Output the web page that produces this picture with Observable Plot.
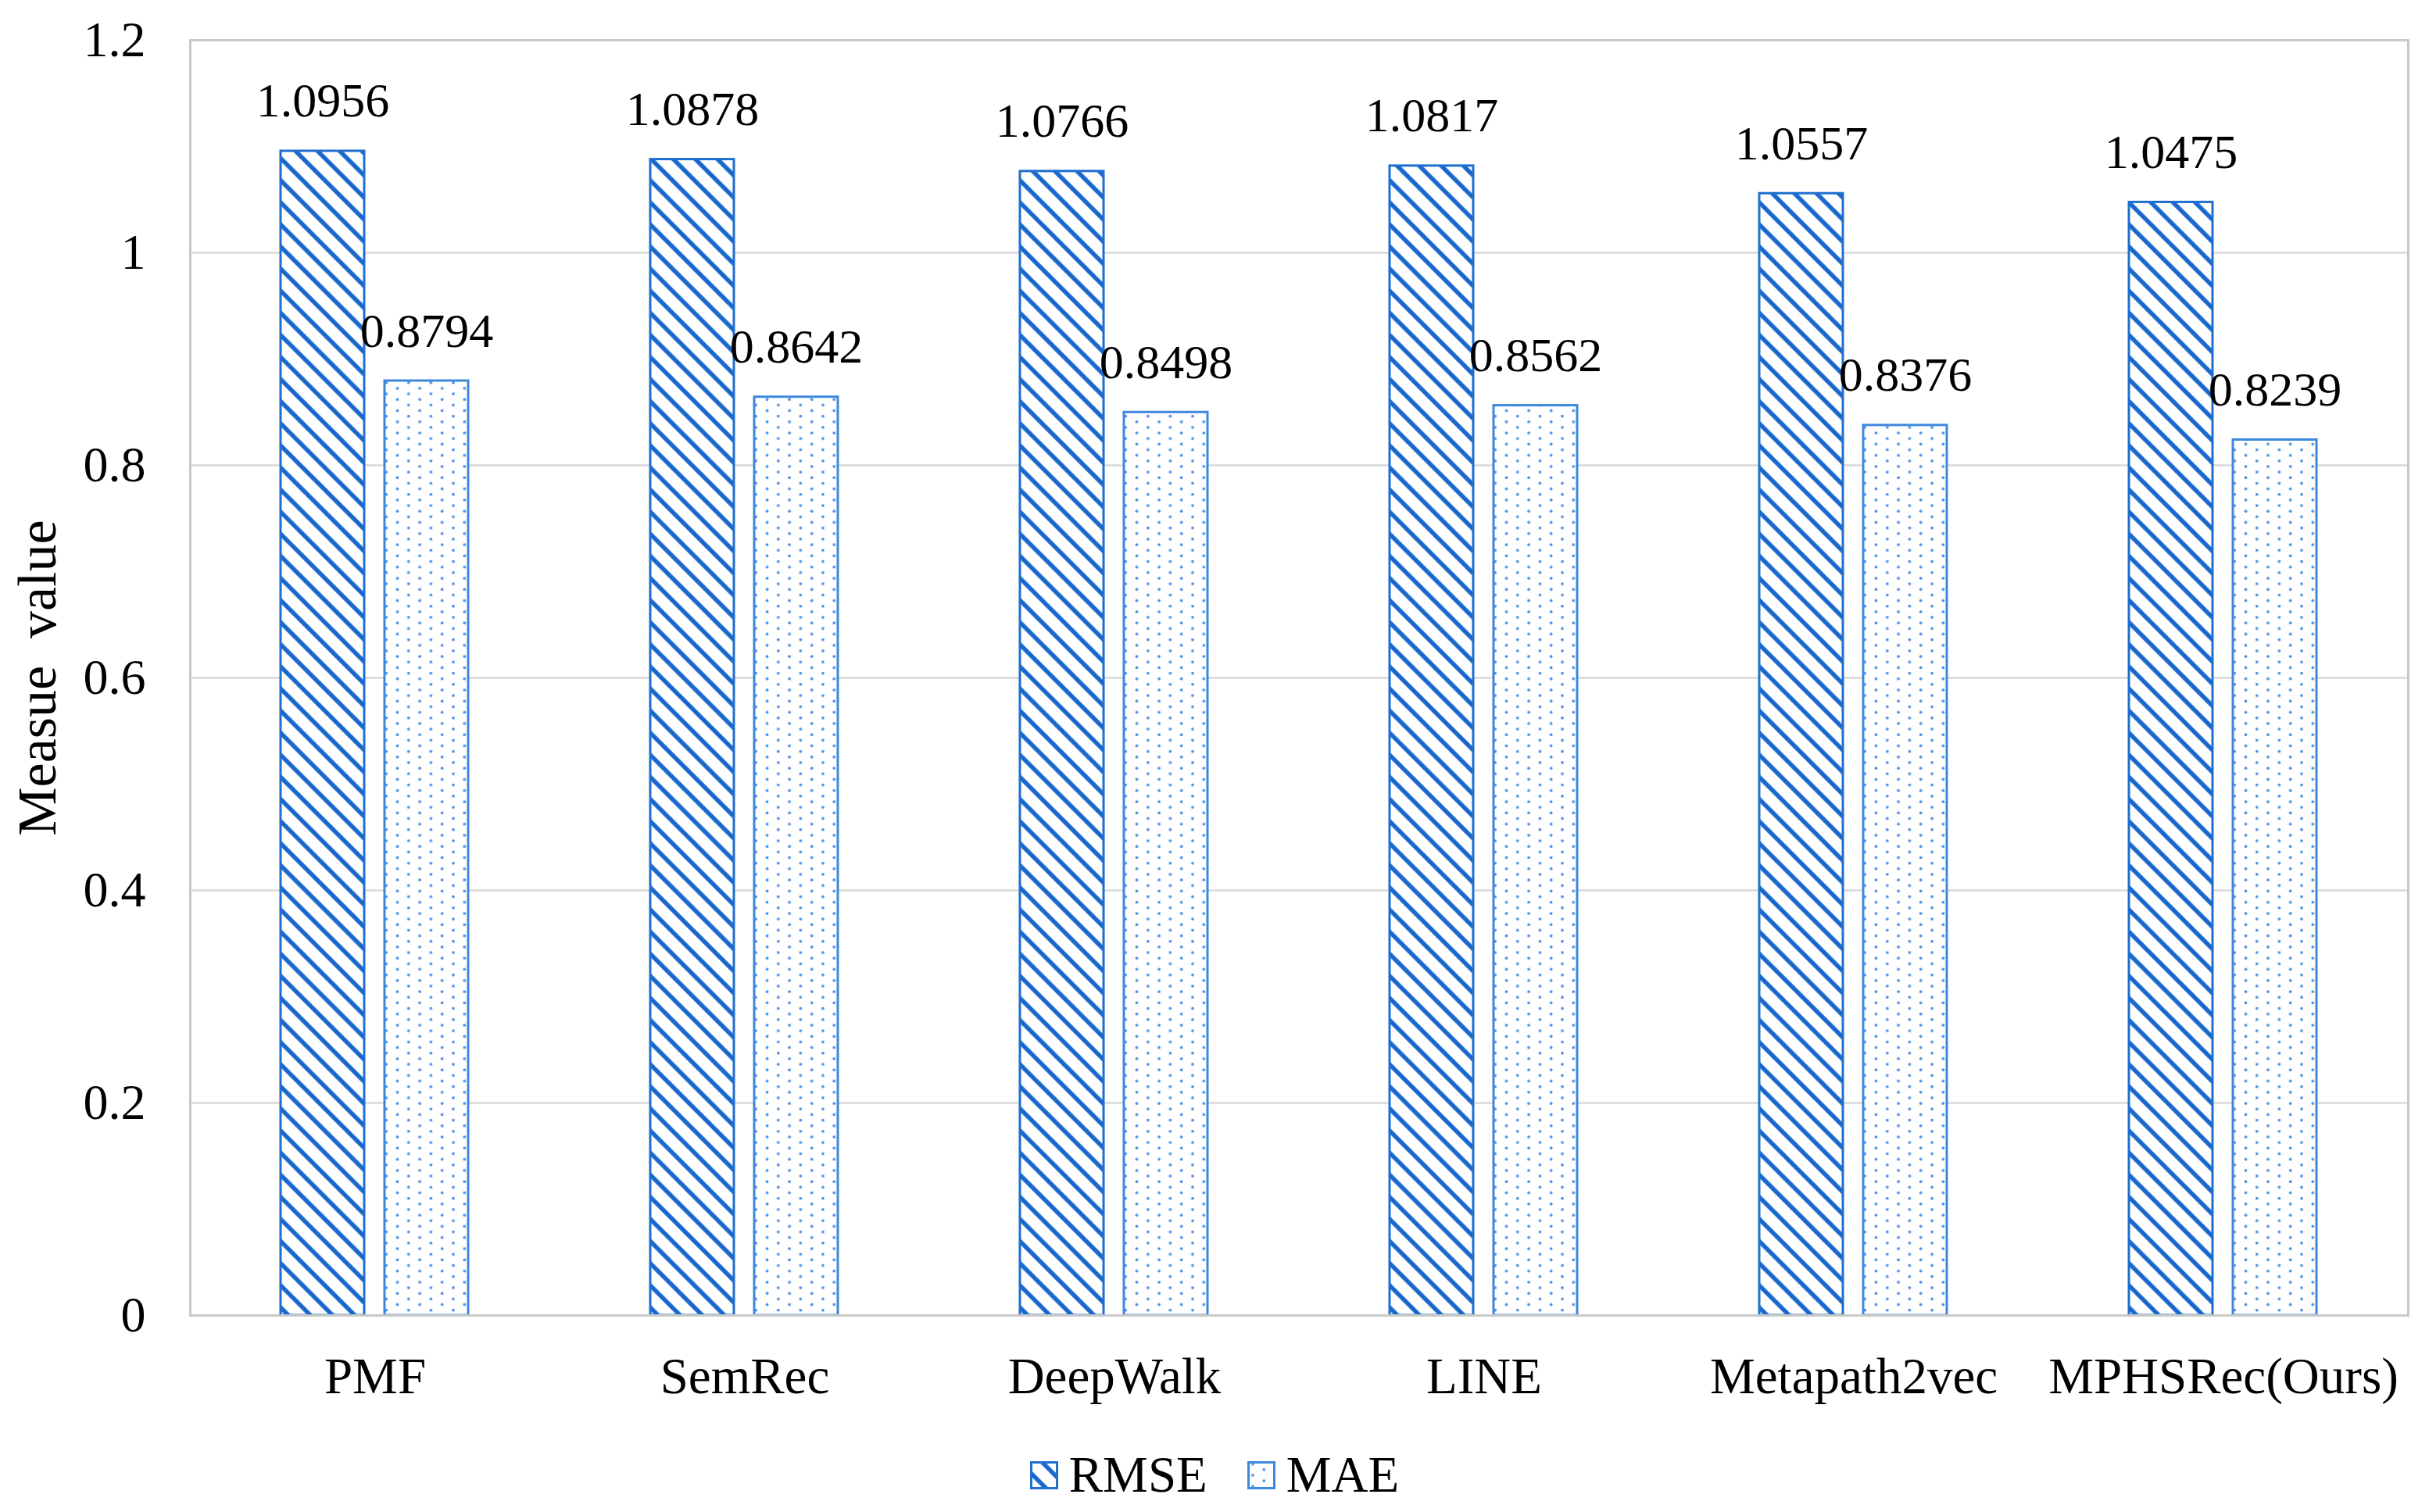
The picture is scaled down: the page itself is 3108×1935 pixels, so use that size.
<!DOCTYPE html>
<html>
<head>
<meta charset="utf-8">
<script src="https://cdn.jsdelivr.net/npm/d3@7"></script>
<script src="https://cdn.jsdelivr.net/npm/@observablehq/plot@0.6"></script>
<style>
  body { margin: 0; background: #fff; }
  #legend {
    display: flex; justify-content: center; align-items: center;
    height: 95px; padding-left: 0;
    font-family: "Liberation Serif", "Times New Roman", serif; font-size: 65px; color: #000;
    line-height: 1;
  }
  #legend svg { display: block; }
</style>
</head>
<body>
<div id="chart"></div>
<div id="legend"></div>
<script>
const methods = ["PMF", "SemRec", "DeepWalk", "LINE", "Metapath2vec", "MPHSRec(Ours)"];
const series = ["RMSE", "MAE"];
const rmse = [1.0956, 1.0878, 1.0766, 1.0817, 1.0557, 1.0475];
const mae = [0.8794, 0.8642, 0.8498, 0.8562, 0.8376, 0.8239];
const yTicks = [0, 0.2, 0.4, 0.6, 0.8, 1, 1.2];
const yLabel = "Measue\u00a0 value";

const rows = methods.flatMap((m, i) => [
  {method: m, series: "RMSE", value: rmse[i]},
  {method: m, series: "MAE", value: mae[i]}
]);

const blue = "#1f6fd0";
const blueLight = "#3d88de";

const chart = Plot.plot({
  width: 3108,
  height: 1840,
  marginLeft: 242,
  marginRight: 26,
  marginTop: 51,
  marginBottom: 157,
  style: {fontFamily: "'Liberation Serif', 'Times New Roman', serif", fontSize: "64px", color: "#000", background: "#fff", overflow: "visible"},
  fx: {domain: methods, padding: 0},
  x: {domain: series, paddingInner: 0.195, paddingOuter: 0.87, axis: null},
  y: {domain: [0, 1.2]},
  marks: [
    Plot.gridY(yTicks.slice(1, -1), {stroke: "#d9d9d9", strokeOpacity: 1, strokeWidth: 2.5}),
    Plot.barY(rows.filter(d => d.series === "RMSE"), {fx: "method", x: "series", y: "value", fill: "url(#hatch)", stroke: blue, strokeWidth: 3}),
    Plot.barY(rows.filter(d => d.series === "MAE"), {fx: "method", x: "series", y: "value", fill: "url(#dots)", stroke: blueLight, strokeWidth: 3}),
    Plot.frame({stroke: "#c9c9c9", strokeWidth: 3, facet: "super"}),
    Plot.text(rows, {fx: "method", x: "series", y: "value", text: d => d.value.toFixed(4), lineAnchor: "bottom", dy: -44, fontSize: 62, fill: "#000"}),
    Plot.axisY(yTicks, {tickSize: 0, tickPadding: 57, fontSize: 64, label: null, tickFormat: d => String(d)}),
    Plot.axisY({ticks: [], tickSize: 0, label: yLabel, labelArrow: "none", labelAnchor: "center", labelOffset: 222, fontSize: 70}),
    Plot.axisFx({anchor: "bottom", tickSize: 0, tickPadding: 53, fontSize: 65, label: null})
  ]
});

const defs = d3.select(chart).insert("defs", ":first-child");
const hatch = defs.append("pattern")
  .attr("id", "hatch").attr("patternUnits", "userSpaceOnUse")
  .attr("width", 20).attr("height", 20)
  .attr("patternTransform", "rotate(-45)");
hatch.append("rect").attr("width", 20).attr("height", 20).attr("fill", "#fff");
hatch.append("line").attr("x1", 10).attr("y1", -2).attr("x2", 10).attr("y2", 22)
  .attr("stroke", "#1666cc").attr("stroke-width", 5.5);
const dots = defs.append("pattern")
  .attr("id", "dots").attr("patternUnits", "userSpaceOnUse")
  .attr("width", 28.6).attr("height", 14.3);
dots.append("rect").attr("width", 28.6).attr("height", 14.3).attr("fill", "#fff");
dots.append("circle").attr("cx", 7).attr("cy", 3.6).attr("r", 1.9).attr("fill", "#4f93e6");
dots.append("circle").attr("cx", 21.3).attr("cy", 10.7).attr("r", 1.9).attr("fill", "#4f93e6");

document.getElementById("chart").append(chart);

// Legend
const legend = d3.select("#legend");
const fills = {RMSE: ["url(#hatch)", blue], MAE: ["url(#dots)", blueLight]};
series.forEach((s, i) => {
  const sw = legend.append("svg").attr("width", 36).attr("height", 36)
    .style("margin-left", i === 0 ? "0px" : "51px");
  sw.append("rect").attr("x", 1.5).attr("y", 1.5).attr("width", 33).attr("height", 33)
    .attr("fill", fills[s][0]).attr("stroke", fills[s][1]).attr("stroke-width", 3);
  legend.append("span").style("margin-left", "14px").text(s);
});
</script>
</body>
</html>
